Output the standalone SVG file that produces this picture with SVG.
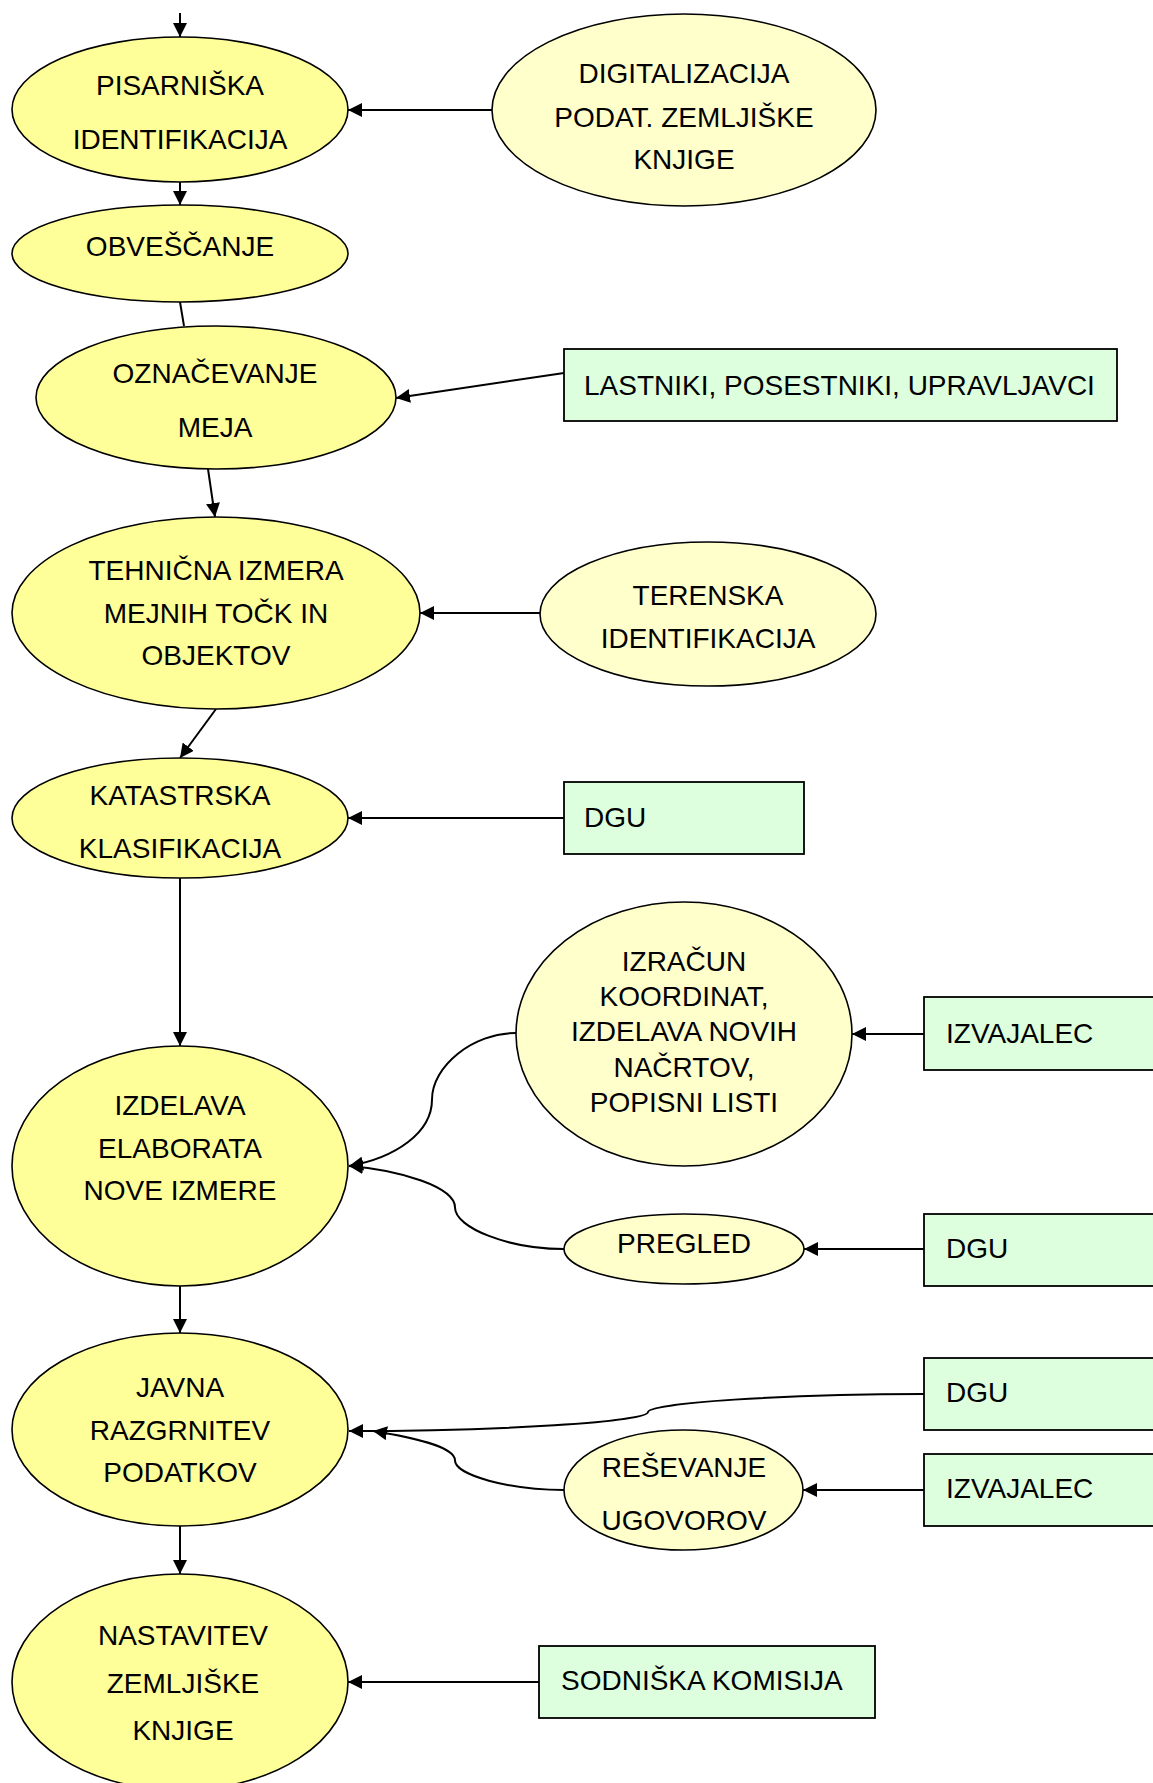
<svg xmlns="http://www.w3.org/2000/svg" width="1153" height="1783" viewBox="0 0 1153 1783">
<defs>
<marker id="arr" markerUnits="userSpaceOnUse" markerWidth="15" markerHeight="14" refX="14" refY="7" orient="auto">
<path d="M0,0 L14,7 L0,14 z" fill="#000"/>
</marker>
<style>
.main{fill:#FFFF99;stroke:#000;stroke-width:1.6}
.pale{fill:#FFFFCC;stroke:#000;stroke-width:1.6}
.box{fill:#DDFFDD;stroke:#000;stroke-width:1.8}
text{font-family:"Liberation Sans",Arial,sans-serif;font-size:28px;fill:#000}
.c{text-anchor:middle}
.con{fill:none;stroke:#000;stroke-width:2}
.arr{marker-end:url(#arr)}
</style>
</defs>
<rect width="1153" height="1783" fill="#fff"/>

<g id="connectors">
<path class="con arr" d="M180,13 L180,37"/>
<path class="con arr" d="M492,110 L348,110"/>
<path class="con arr" d="M180,182 L180,205"/>
<path class="con" d="M180,302 L184,326"/>
<path class="con arr" d="M564,373 L396,398"/>
<path class="con arr" d="M208,469 L215,517"/>
<path class="con arr" d="M540,613 L420,613"/>
<path class="con arr" d="M216,709 L180,758"/>
<path class="con arr" d="M564,818 L348,818"/>
<path class="con arr" d="M180,878 L180,1046"/>
<path class="con arr" d="M516,1033 C473,1033 432,1066 432,1099.5 C432,1133 395,1158 349,1166"/>
<path class="con arr" d="M564,1249 C509,1249 455,1228 455,1207.5 C455,1187 400,1170 349,1166"/>
<path class="con arr" d="M924,1034 L852,1034"/>
<path class="con arr" d="M924,1249 L804,1249"/>
<path class="con arr" d="M180,1286 L180,1333"/>
<path class="con arr" d="M924,1394 C786,1394 648,1403 648,1412 C648,1422 498,1431 349,1431"/>
<path class="con arr" d="M564,1490 C509,1490 455,1475 455,1460.5 C455,1446 410,1437 373,1431"/>
<path class="con arr" d="M924,1490 L803,1490"/>
<path class="con arr" d="M180,1526 L180,1574"/>
<path class="con arr" d="M539,1682 L348,1682"/>
</g>

<g id="pisarniska">
<ellipse class="main" cx="180" cy="109.5" rx="168" ry="72.5"/>
<text class="c" x="180" y="95">PISARNIŠKA</text>
<text class="c" x="180" y="149">IDENTIFIKACIJA</text>
</g>
<g id="obvescanje">
<ellipse class="main" cx="180" cy="253.5" rx="168" ry="48.5"/>
<text class="c" x="180" y="256">OBVEŠČANJE</text>
</g>
<g id="oznacevanje">
<ellipse class="main" cx="216" cy="397.5" rx="180" ry="71.5"/>
<text class="c" x="215" y="383">OZNAČEVANJE</text>
<text class="c" x="215" y="437">MEJA</text>
</g>
<g id="tehnicna">
<ellipse class="main" cx="216" cy="613" rx="204" ry="96"/>
<text class="c" x="216" y="580">TEHNIČNA IZMERA</text>
<text class="c" x="216" y="623">MEJNIH TOČK IN</text>
<text class="c" x="216" y="665">OBJEKTOV</text>
</g>
<g id="katastrska">
<ellipse class="main" cx="180" cy="818" rx="168" ry="60"/>
<text class="c" x="180" y="805">KATASTRSKA</text>
<text class="c" x="180" y="858">KLASIFIKACIJA</text>
</g>
<g id="izdelava">
<ellipse class="main" cx="180" cy="1166" rx="168" ry="120"/>
<text class="c" x="180" y="1115">IZDELAVA</text>
<text class="c" x="180" y="1158">ELABORATA</text>
<text class="c" x="180" y="1200">NOVE IZMERE</text>
</g>
<g id="javna">
<ellipse class="main" cx="180" cy="1429.5" rx="168" ry="96.5"/>
<text class="c" x="180" y="1397">JAVNA</text>
<text class="c" x="180" y="1440">RAZGRNITEV</text>
<text class="c" x="180" y="1482">PODATKOV</text>
</g>
<g id="nastavitev">
<ellipse class="main" cx="180" cy="1682" rx="168" ry="108"/>
<text class="c" x="183" y="1645">NASTAVITEV</text>
<text class="c" x="183" y="1693">ZEMLJIŠKE</text>
<text class="c" x="183" y="1740">KNJIGE</text>
</g>
<g id="digitalizacija">
<ellipse class="pale" cx="684" cy="110" rx="192" ry="96"/>
<text class="c" x="684" y="83">DIGITALIZACIJA</text>
<text class="c" x="684" y="127">PODAT. ZEMLJIŠKE</text>
<text class="c" x="684" y="169">KNJIGE</text>
</g>
<g id="lastniki">
<rect class="box" x="564" y="349" width="553" height="72"/>
<text x="584" y="395">LASTNIKI, POSESTNIKI, UPRAVLJAVCI</text>
</g>
<g id="terenska">
<ellipse class="pale" cx="708" cy="614" rx="168" ry="72"/>
<text class="c" x="708" y="605">TERENSKA</text>
<text class="c" x="708" y="648">IDENTIFIKACIJA</text>
</g>
<g id="dgu1">
<rect class="box" x="564" y="782" width="240" height="72"/>
<text x="584" y="827">DGU</text>
</g>
<g id="izracun">
<ellipse class="pale" cx="684" cy="1034" rx="168" ry="132"/>
<text class="c" x="684" y="971">IZRAČUN</text>
<text class="c" x="684" y="1006">KOORDINAT,</text>
<text class="c" x="684" y="1041">IZDELAVA NOVIH</text>
<text class="c" x="684" y="1077">NAČRTOV,</text>
<text class="c" x="684" y="1112">POPISNI LISTI</text>
</g>
<g id="izvajalec1">
<rect class="box" x="924" y="997" width="240" height="73"/>
<text x="946" y="1043">IZVAJALEC</text>
</g>
<g id="pregled">
<ellipse class="pale" cx="684" cy="1249" rx="120" ry="35"/>
<text class="c" x="684" y="1253">PREGLED</text>
</g>
<g id="dgu2">
<rect class="box" x="924" y="1214" width="240" height="72"/>
<text x="946" y="1258">DGU</text>
</g>
<g id="dgu3">
<rect class="box" x="924" y="1358" width="240" height="72"/>
<text x="946" y="1402">DGU</text>
</g>
<g id="resevanje">
<ellipse class="pale" cx="683.5" cy="1490" rx="119.5" ry="60"/>
<text class="c" x="684" y="1477">REŠEVANJE</text>
<text class="c" x="684" y="1530">UGOVOROV</text>
</g>
<g id="izvajalec2">
<rect class="box" x="924" y="1454" width="240" height="72"/>
<text x="946" y="1498">IZVAJALEC</text>
</g>
<g id="sodniska">
<rect class="box" x="539" y="1646" width="336" height="72"/>
<text x="561" y="1690">SODNIŠKA KOMISIJA</text>
</g>
</svg>
